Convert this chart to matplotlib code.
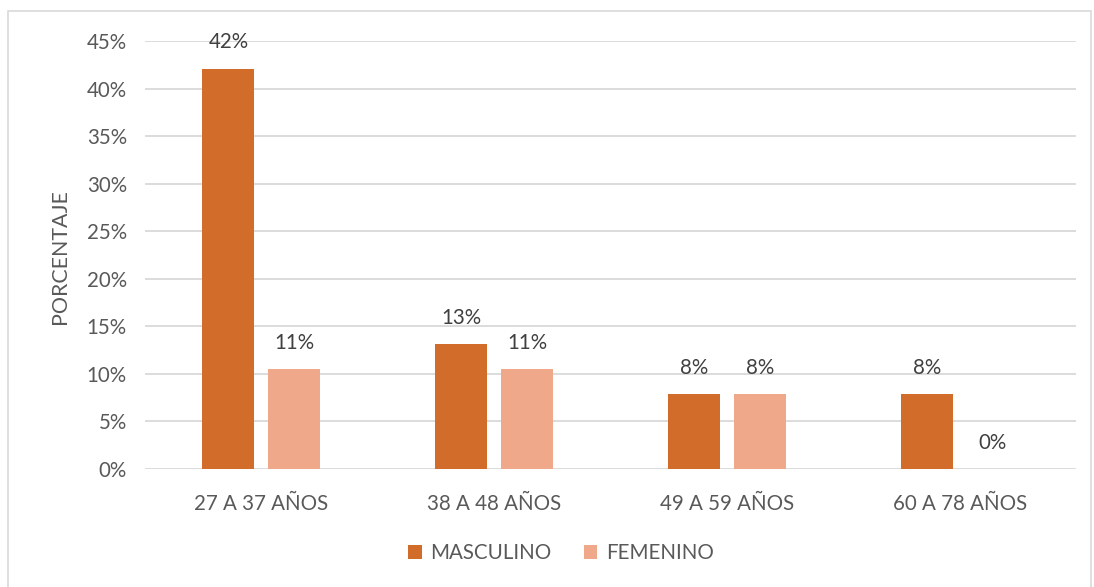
import matplotlib
matplotlib.use("Agg")
import matplotlib.pyplot as plt
import matplotlib.patches as patches
import numpy as np

# datos: proporcion por grupo de edad (n = 38)
grupos = ["27 A 37 AÑOS", "38 A 48 AÑOS", "49 A 59 AÑOS", "60 A 78 AÑOS"]
masculino = [16 / 38, 5 / 38, 3 / 38, 3 / 38]
femenino = [4 / 38, 4 / 38, 3 / 38, 0.0]
ticks_y = [0, 0.05, 0.10, 0.15, 0.20, 0.25, 0.30, 0.35, 0.40, 0.45]

color_m = "#D26C2B"
color_f = "#F0A88A"
gris = "#595959"
fs = 14.8

plt.rcParams["font.family"] = ["Lato", "DejaVu Sans"]

fig = plt.figure(figsize=(10.94, 5.87), dpi=100)
ax = fig.add_axes([145 / 1094, 1 - 469 / 587, (1076 - 145) / 1094, (469 - 41) / 587])

# marco exterior del grafico
fig.patches.append(patches.Rectangle((8 / 1094, -0.01), 1083 / 1094, 1 - 11 / 587 + 0.01,
                                     transform=fig.transFigure, fill=False,
                                     edgecolor="#d9d9d9", linewidth=1.2))

x = np.arange(len(grupos))
ancho = 0.223
sep = 0.03
b1 = ax.bar(x - ancho / 2 - sep, masculino, ancho, color=color_m, label="MASCULINO")
b2 = ax.bar(x + ancho / 2 + sep, femenino, ancho, color=color_f, label="FEMENINO")

for barras in (b1, b2):
    for b in barras:
        v = b.get_height()
        ax.text(b.get_x() + b.get_width() / 2, v + 0.017, "{:.0%}".format(v),
                ha="center", va="bottom", fontsize=fs, color="#404040")

ax.set_xlim(-0.5, len(grupos) - 0.5)
ax.set_ylim(0, 0.45)
ax.set_yticks(ticks_y)
ax.set_yticklabels(["{:.0%}".format(t) for t in ticks_y])
ax.set_xticks(x)
ax.set_xticklabels(grupos)
ax.tick_params(axis="both", length=0, labelsize=fs, labelcolor=gris)
ax.tick_params(axis="x", pad=18)
ax.tick_params(axis="y", pad=13)

ax.grid(axis="y", color="#d9d9d9", linewidth=1.3)
ax.set_axisbelow(True)
for s in ax.spines.values():
    s.set_visible(False)

fig.text(60 / 1094, 1 - 257 / 587, "PORCENTAJE", rotation=90, ha="center", va="center",
         fontsize=fs + 0.6, color=gris)

fig.legend(handles=[b1, b2], loc="center", bbox_to_anchor=(561 / 1094, 1 - 553 / 587),
           ncol=2, frameon=False, fontsize=fs, labelcolor=gris,
           handlelength=0.65, handleheight=0.65, handletextpad=0.4, columnspacing=1.6)

fig.savefig("out.png", dpi=100)
